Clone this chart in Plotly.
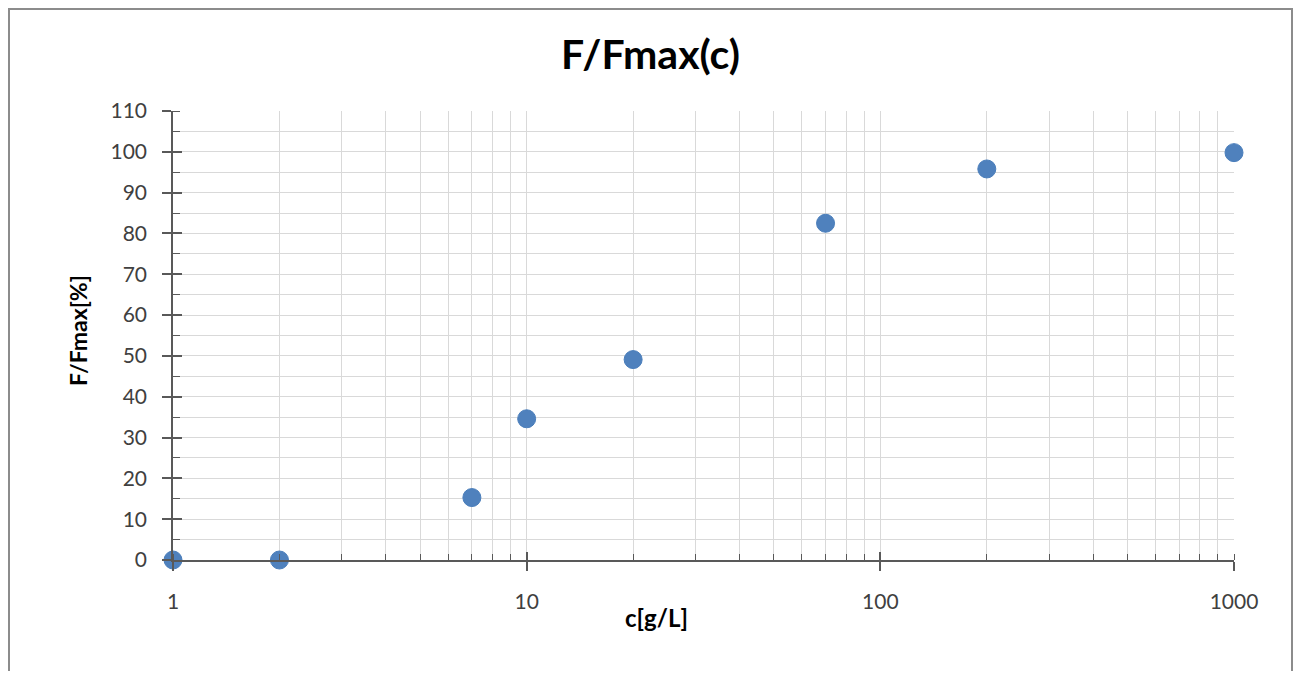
import plotly.graph_objects as go

# data
concentration = [1, 2, 7, 10, 20, 70, 200, 1000]
f_fmax = [0, 0, 15.3, 34.6, 49.1, 82.5, 95.8, 99.8]
x_ticks = [1, 10, 100, 1000]
x_tick_labels = ["1", "10", "100", "1000"]
y_ticks = list(range(0, 111, 10))

FONT = "Lato"
AXIS_COLOR = "#595959"
GRID = "#D9D9D9"

W, H = 1285, 663
L, T, PR, PB = 165, 103, 1226, 552   # plot area in figure pixels
PW, PH = PR - L, PB - T

def px(x):
    return (x - L) / PW

def py(y):
    return (PB - y) / PH

fig = go.Figure()
# overlay axes for inward half of major ticks
fig.add_trace(go.Scatter(x=[1, 1000], y=[0, 0], xaxis="x2", yaxis="y2",
                         mode="markers", marker=dict(opacity=0), showlegend=False,
                         hoverinfo="skip"))
fig.add_trace(go.Scatter(
    x=concentration, y=f_fmax, mode="markers",
    marker=dict(size=18, color="#4F81BD", line=dict(color="#4A7EBB", width=1)),
    showlegend=False, cliponaxis=False,
))

fig.update_layout(
    width=W, height=H,
    margin=dict(l=L, r=W - PR, t=T, b=H - PB),
    paper_bgcolor="white", plot_bgcolor="white",
    font=dict(family=FONT, size=21, color="#404040"),
    title=dict(text="<b>F/Fmax(c)</b>", x=0.5, xref="container", xanchor="center",
               y=1 - 47 / H, yanchor="middle",
               font=dict(family=FONT, size=41, color="black")),
    xaxis=dict(
        type="log", range=[0, 3],
        tickmode="array", tickvals=x_ticks, ticktext=x_tick_labels,
        ticks="outside", ticklen=9, tickwidth=1.5, tickcolor=AXIS_COLOR,
        ticklabelstandoff=13,
        showline=True, linecolor=AXIS_COLOR, linewidth=1.5,
        showgrid=True, gridcolor=GRID, gridwidth=1,
        minor=dict(ticks="inside", ticklen=6, tickwidth=1.2, tickcolor=AXIS_COLOR,
                   showgrid=True, gridcolor=GRID, gridwidth=1, dtick="D1"),
        zeroline=False, fixedrange=True,
    ),
    yaxis=dict(
        range=[0, 110],
        tickmode="array", tickvals=y_ticks,
        ticks="outside", ticklen=9, tickwidth=1.5, tickcolor=AXIS_COLOR,
        ticklabelstandoff=11,
        showline=True, linecolor=AXIS_COLOR, linewidth=1.5,
        showgrid=True, gridcolor=GRID, gridwidth=1,
        minor=dict(ticks="inside", ticklen=7, tickwidth=1.2, tickcolor=AXIS_COLOR,
                   showgrid=True, gridcolor=GRID, gridwidth=1, dtick=5, tick0=0),
        zeroline=False, fixedrange=True,
    ),
    xaxis2=dict(type="log", range=[0, 3], overlaying="x", anchor="y",
                tickmode="array", tickvals=x_ticks,
                ticks="inside", ticklen=8, tickwidth=1.5, tickcolor=AXIS_COLOR,
                showgrid=False, showline=False, zeroline=False, showticklabels=False),
    yaxis2=dict(range=[0, 110], overlaying="y", anchor="x",
                tickmode="array", tickvals=y_ticks,
                ticks="inside", ticklen=9, tickwidth=1.5, tickcolor=AXIS_COLOR,
                showgrid=False, showline=False, zeroline=False, showticklabels=False),
)

# axis titles
fig.add_annotation(text="<b>c[g/L]</b>", xref="paper", yref="paper",
                   x=px(648), y=py(609),
                   showarrow=False, xanchor="center", yanchor="middle",
                   font=dict(family=FONT, size=24, color="black"))
fig.add_annotation(text="<b>F/Fmax[%]</b>", xref="paper", yref="paper",
                   x=px(70), y=py(323), textangle=-90,
                   showarrow=False, xanchor="center", yanchor="middle",
                   font=dict(family=FONT, size=23, color="black"))

# outer chart border
fig.add_shape(type="rect", xref="paper", yref="paper",
              x0=px(1), x1=px(W - 1), y0=py(H + 40), y1=py(1),
              line=dict(color="#8C8C8C", width=2), fillcolor="rgba(0,0,0,0)", layer="below")

fig.write_html("out.html")
